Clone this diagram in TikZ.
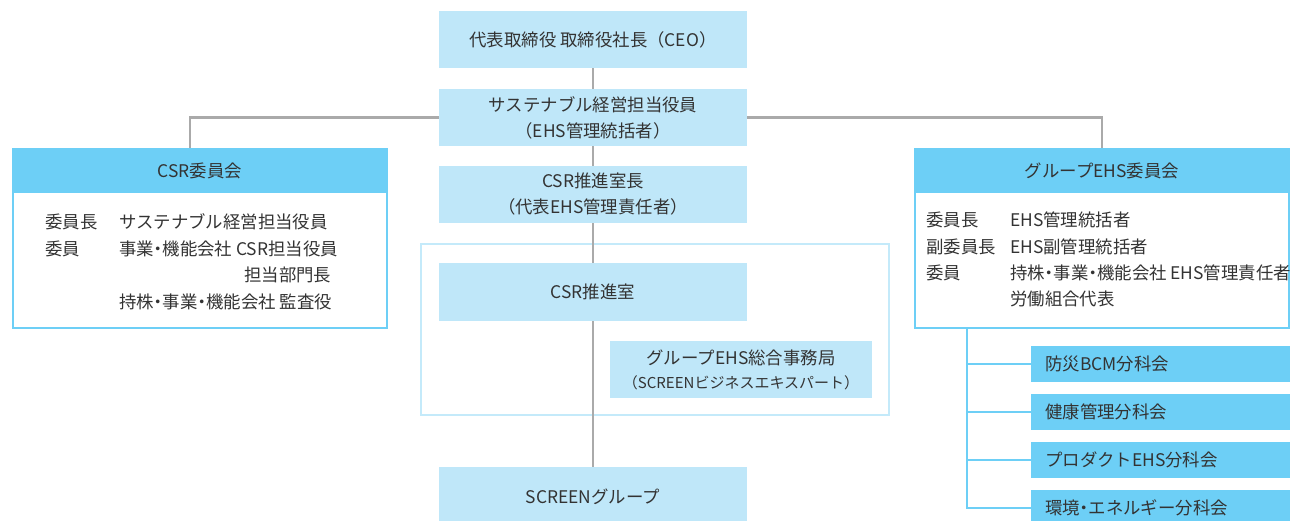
\documentclass[tikz,border=0pt]{standalone}
\usepackage{fontspec}
\setmainfont{Noto Sans CJK JP}
\usetikzlibrary{positioning}
\definecolor{boxlight}{HTML}{BFE7F9}
\definecolor{boxdark}{HTML}{6DCFF6}
\definecolor{linegray}{HTML}{AAAAAA}
\definecolor{framecol}{HTML}{C4EAFA}
\definecolor{txtcol}{HTML}{333333}
\newcommand{\nakaten}{\makebox[0.5em]{・}}

\begin{document}
\begin{tikzpicture}
  [x=1pt,y=-1pt,
   every node/.style={text=txtcol,inner sep=0pt,align=center,
     font=\fontsize{17.4pt}{26pt}\selectfont},
   lbox/.style={fill=boxlight,minimum width=308pt,minimum height=57pt},
   hbox/.style={fill=boxdark,minimum width=376pt,minimum height=45pt},
   bodybox/.style={draw=boxdark,line width=2pt,fill=white,
     minimum width=374pt,minimum height=179pt},
   subbox/.style={fill=boxdark,anchor=west,align=left,text width=241pt,
     inner xsep=14pt,minimum height=36pt},
   memb/.style={anchor=west},
   gline/.style={draw=linegray,line width=2.5pt},
   cline/.style={draw=boxdark,line width=2.5pt}]
  \useasboundingbox (0,0) rectangle (1290,520);
  % centre column
  \node[lbox] (ceo) at (593,39.5) {代表取締役 取締役社長（CEO）};
  \node[lbox] (sus) at (593,117.5) {サステナブル経営担当役員\\（EHS管理統括者）};
  \node[lbox] (csrh) at (593,194.5) {CSR推進室長\\（代表EHS管理責任者）};
  \node[draw=framecol,line width=2.5pt,minimum width=468pt,minimum height=171pt] (frame) at (655,329.5) {};
  \node[lbox,minimum height=58pt] (csr) at (593,292) {CSR推進室};
  \node[lbox,minimum width=262pt] (jimu) at (741,369.5)
    {グループEHS総合事務局\\[-2pt]{\fontsize{15pt}{25pt}\selectfont （SCREENビジネスエキスパート）}};
  \node[lbox,minimum height=60pt] (scr) at (593,497) {SCREENグループ};
  % committees
  \node[bodybox] (csrb) at (200,238.5) {};
  \node[hbox] (csrc) at (200,170.5) {CSR委員会};
  \node[bodybox] (ehsb) at (1102,238.5) {};
  \node[hbox] (ehsc) at (1102,170.5) {グループEHS委員会};
  \node[memb] (c1a) at (45,222) {委員長};
  \node[memb] (c1b) at (119,222) {サステナブル経営担当役員};
  \node[memb] (c2a) at (45,249) {委員};
  \node[memb] (c2b) at (119,249) {事業\nakaten 機能会社 CSR担当役員};
  \node[memb] (c3b) at (244,275) {担当部門長};
  \node[memb] (c4b) at (119,302) {持株\nakaten 事業\nakaten 機能会社 監査役};
  \node[memb] (e1a) at (926,220) {委員長};
  \node[memb] (e1b) at (1010,220) {EHS管理統括者};
  \node[memb] (e2a) at (926,247) {副委員長};
  \node[memb] (e2b) at (1010,247) {EHS副管理統括者};
  \node[memb] (e3a) at (926,273) {委員};
  \node[memb] (e3b) at (1010,273) {持株\nakaten 事業\nakaten 機能会社 EHS管理責任者};
  \node[memb] (e4b) at (1010,299) {労働組合代表};
  % subcommittees
  \node[subbox] (sub1) at (1031,364) {防災BCM分科会};
  \node[subbox] (sub2) at (1031,412) {健康管理分科会};
  \node[subbox] (sub3) at (1031,460) {プロダクトEHS分科会};
  \node[subbox] (sub4) at (1031,508) {環境\nakaten エネルギー分科会};
  \foreach \from/\to in {ceo/sus,sus/csrh,csrh/csr,csr/scr}
    \draw[gline] (\from.south) -- (\to.north);
  \draw[gline] (sus.west) -| ([xshift=-10pt]csrc.north);
  \draw[gline] (sus.east) -| (ehsc.north);
  \foreach \s in {sub1,sub2,sub3,sub4}
    \draw[cline] ([xshift=53pt]ehsb.south west) |- (\s.west);
\end{tikzpicture}
\end{document}
